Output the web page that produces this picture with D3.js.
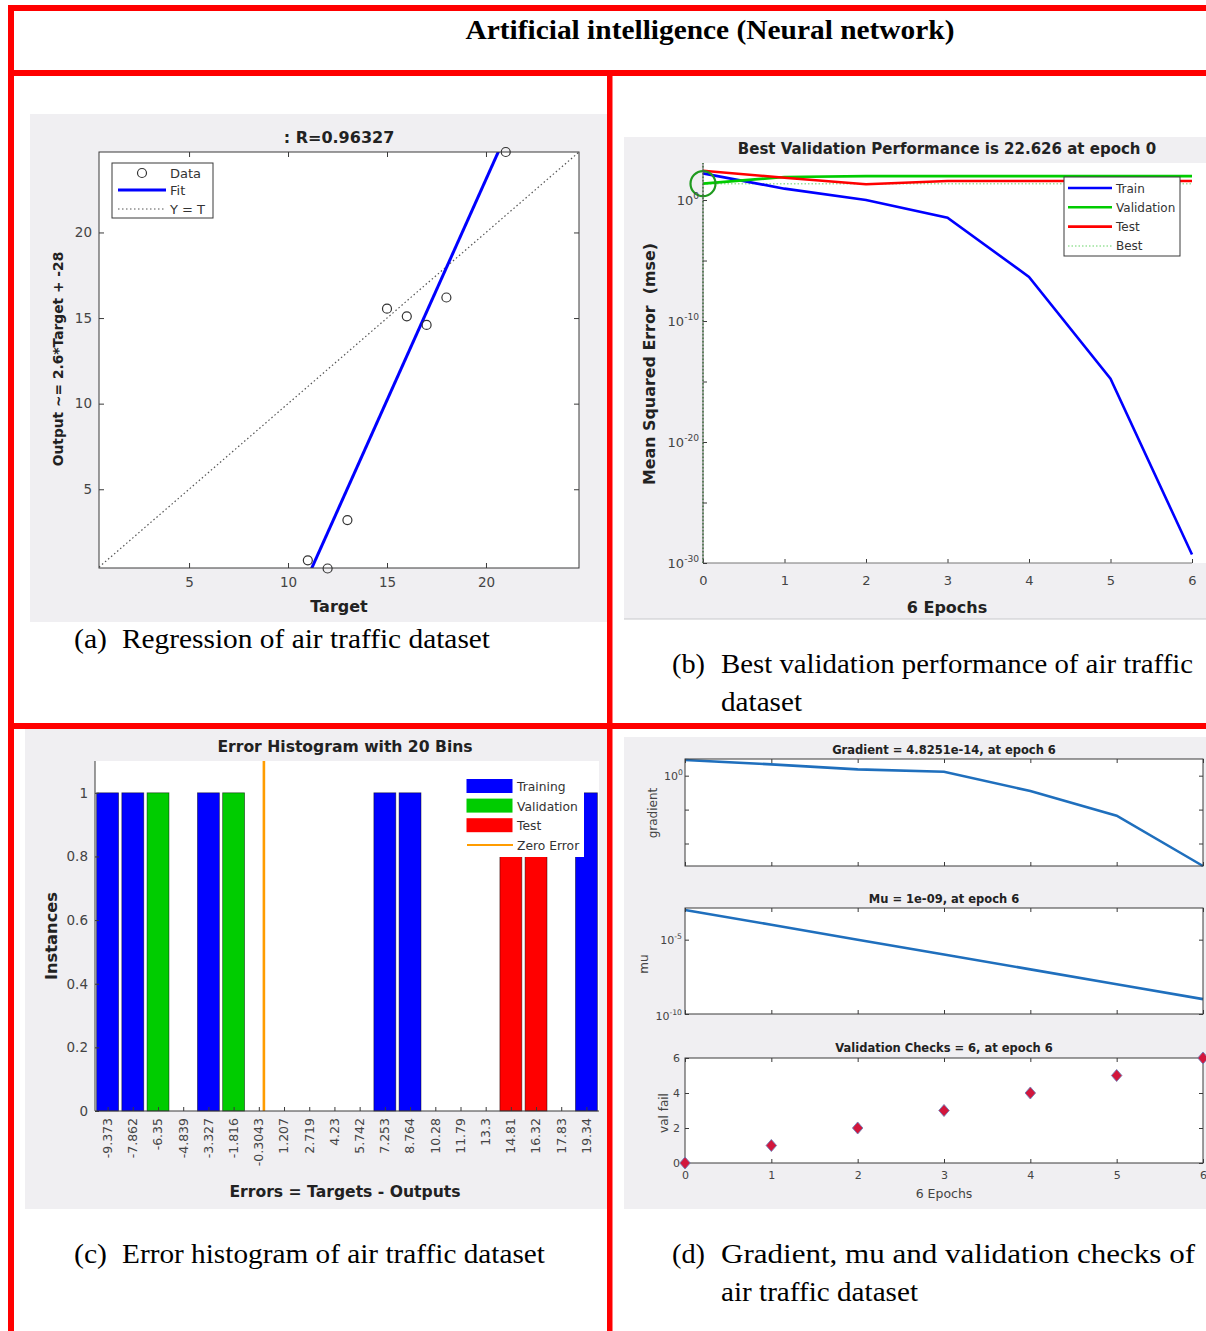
<!DOCTYPE html>
<html>
<head>
<meta charset="utf-8">
<script src="https://cdn.jsdelivr.net/npm/d3@7"></script>
<style>
  body { margin: 0; background: #fff; }
  svg text { white-space: pre; }
</style>
</head>
<body>
<svg id="fig" width="1206" height="1331"></svg>
<script>
// ---- data ----
const regTarget = [11, 12, 13, 15, 16, 17, 18, 21];
const regOutput = [0.85, 0.37, 3.2, 15.55, 15.1, 14.6, 16.2, 24.7];
const fitSlope = 2.58, fitIntercept = -28.5;
const regTicks = [5, 10, 15, 20];

const epochs = [0, 1, 2, 3, 4, 5, 6];
const perfTrain = [160, 8.7, 1.0, 0.035, 4.4e-7, 1.7e-15, 5e-30];
const perfVal = [22.626, 80, 95, 95, 95, 95, 95];
const perfTest = [265, 70, 20, 37, 37, 37, 37];
const bestPerf = 22.626, bestEpoch = 0;
const perfTickExp = [0, -5, -10, -15, -20, -25, -30];
const perfLabelExp = [0, -10, -20, -30];

const binCenters = [-9.373, -7.862, -6.35, -4.839, -3.327, -1.816, -0.3043, 1.207, 2.719, 4.23,
                    5.742, 7.253, 8.764, 10.28, 11.79, 13.3, 14.81, 16.32, 17.83, 19.34];
const histTrain = [1, 1, 0, 0, 1, 0, 0, 0, 0, 0, 0, 1, 1, 0, 0, 0, 0, 0, 0, 1];
const histVal   = [0, 0, 1, 0, 0, 1, 0, 0, 0, 0, 0, 0, 0, 0, 0, 0, 0, 0, 0, 0];
const histTest  = [0, 0, 0, 0, 0, 0, 0, 0, 0, 0, 0, 0, 0, 0, 0, 0, 1, 1, 0, 0];
const histTicks = [0, 0.2, 0.4, 0.6, 0.8, 1];

const gradVals = [204, 47, 8.5, 3.9, 5.5e-3, 1.26e-6, 4.8251e-14];
const muVals = [1e-3, 1e-4, 1e-5, 1e-6, 1e-7, 1e-8, 1e-9];
const valFail = [0, 1, 2, 3, 4, 5, 6];
const valTicks = [0, 2, 4, 6];

// ---- look ----
const FONT = '"DejaVu Sans", Verdana, sans-serif';
const SERIF = '"Liberation Serif", "Times New Roman", serif';
const AX = "#3a3a3a", TX = "#444", PANEL = "#f0eff2", RED = "#ff0000";

const svg = d3.select("#fig");

function styleAxis(g, fs) {
  g.attr("font-family", FONT).attr("font-size", fs);
  g.selectAll(".domain").remove();
  g.selectAll(".tick line").attr("stroke", AX);
  g.selectAll(".tick text").attr("fill", TX);
}

function powLabel(g, x, y, exp, fs) {
  const t = g.append("text").attr("x", x).attr("y", y + fs * 0.35)
    .attr("text-anchor", "end").attr("font-family", FONT)
    .attr("font-size", fs).attr("fill", TX);
  t.append("tspan").text("10");
  t.append("tspan").attr("font-size", fs * 0.7).attr("dy", -fs * 0.45).text(exp);
}

function label(g, x, y, txt, fs, opts = {}) {
  const t = g.append("text").attr("x", x).attr("y", y)
    .attr("text-anchor", opts.anchor || "middle")
    .attr("font-family", opts.family || FONT)
    .attr("font-size", fs)
    .attr("font-weight", opts.bold ? "bold" : "normal")
    .attr("fill", opts.fill || "#222")
    .text(txt);
  if (opts.rotate) t.attr("transform", `rotate(-90,${x},${y})`);
  return t;
}

// ---- panel backgrounds ----
const frame = svg.append("g");
frame.append("rect").attr("x", 30).attr("y", 114).attr("width", 577).attr("height", 508).attr("fill", PANEL);
frame.append("rect").attr("x", 624).attr("y", 137).attr("width", 582).attr("height", 482).attr("fill", PANEL);
frame.append("line").attr("x1", 624).attr("x2", 1206).attr("y1", 619).attr("y2", 619).attr("stroke", "#c8c8cc");
frame.append("rect").attr("x", 25).attr("y", 729).attr("width", 582).attr("height", 480).attr("fill", PANEL);
frame.append("rect").attr("x", 624).attr("y", 737).attr("width", 582).attr("height", 472).attr("fill", PANEL);

// ================= (a) regression =================
{
  const A = { l: 99, r: 579, t: 152, b: 568 };
  const x = d3.scaleLinear().domain([0.45, 24.7]).range([A.l, A.r]);
  const y = d3.scaleLinear().domain([0.4, 24.7]).range([A.b, A.t]);
  const g = svg.append("g");
  g.append("rect").attr("x", A.l).attr("y", A.t).attr("width", A.r - A.l).attr("height", A.b - A.t).attr("fill", "#fff");

  g.append("clipPath").attr("id", "clipA").append("rect")
    .attr("x", A.l).attr("y", A.t).attr("width", A.r - A.l).attr("height", A.b - A.t);

  const plot = g.append("g").attr("clip-path", "url(#clipA)");
  plot.append("line")
    .attr("x1", x(0.45)).attr("y1", y(0.45)).attr("x2", x(24.7)).attr("y2", y(24.7))
    .attr("stroke", "#555").attr("stroke-width", 1.2).attr("stroke-dasharray", "1.5,2.5");
  const fitT = [10, 22];
  plot.append("line")
    .attr("x1", x(fitT[0])).attr("y1", y(fitSlope * fitT[0] + fitIntercept))
    .attr("x2", x(fitT[1])).attr("y2", y(fitSlope * fitT[1] + fitIntercept))
    .attr("stroke", "#0000ff").attr("stroke-width", 3);
  g.selectAll("circle.pt").data(regTarget).join("circle").attr("class", "pt")
    .attr("cx", d => x(d)).attr("cy", (d, i) => y(regOutput[i])).attr("r", 4.5)
    .attr("fill", "none").attr("stroke", "#333").attr("stroke-width", 1.2);

  g.append("g").attr("transform", `translate(0,${A.b})`)
    .call(d3.axisBottom(x).tickValues(regTicks).tickSizeInner(-5).tickSizeOuter(0).tickPadding(9))
    .call(s => styleAxis(s, 13.5));
  g.append("g").attr("transform", `translate(0,${A.t})`)
    .call(d3.axisTop(x).tickValues(regTicks).tickSizeInner(-5).tickSizeOuter(0).tickFormat(""))
    .call(s => styleAxis(s, 13.5));
  g.append("g").attr("transform", `translate(${A.l},0)`)
    .call(d3.axisLeft(y).tickValues(regTicks).tickSizeInner(-5).tickSizeOuter(0).tickPadding(7))
    .call(s => styleAxis(s, 13.5));
  g.append("g").attr("transform", `translate(${A.r},0)`)
    .call(d3.axisRight(y).tickValues(regTicks).tickSizeInner(-5).tickSizeOuter(0).tickFormat(""))
    .call(s => styleAxis(s, 13.5));
  g.append("rect").attr("x", A.l).attr("y", A.t).attr("width", A.r - A.l).attr("height", A.b - A.t)
    .attr("fill", "none").attr("stroke", AX).attr("stroke-width", 1);

  // legend
  const lg = g.append("g");
  lg.append("rect").attr("x", 112).attr("y", 163).attr("width", 101).attr("height", 55)
    .attr("fill", "#fff").attr("stroke", AX);
  lg.append("circle").attr("cx", 142).attr("cy", 173).attr("r", 4.5).attr("fill", "none").attr("stroke", "#333").attr("stroke-width", 1.2);
  lg.append("line").attr("x1", 118).attr("x2", 166).attr("y1", 190).attr("y2", 190).attr("stroke", "#0000ff").attr("stroke-width", 3);
  lg.append("line").attr("x1", 118).attr("x2", 166).attr("y1", 209).attr("y2", 209).attr("stroke", "#555").attr("stroke-width", 1.2).attr("stroke-dasharray", "1.5,2.5");
  label(lg, 170, 178, "Data", 13, { anchor: "start", fill: "#333" });
  label(lg, 170, 195, "Fit", 13, { anchor: "start", fill: "#333" });
  label(lg, 170, 214, "Y = T", 13, { anchor: "start", fill: "#333" });

  label(g, 339, 143, ": R=0.96327", 16, { bold: true });
  label(g, 339, 612, "Target", 16, { bold: true });
  label(g, 63, 359, "Output ~= 2.6*Target + -28", 13.8, { bold: true, rotate: true });
}

// ================= (b) performance =================
{
  const B = { l: 703, r: 1192, t: 163, b: 563 };
  const x = d3.scaleLinear().domain([0, 6]).range([B.l, B.r]);
  const y = d3.scaleLog().domain([1e-30, Math.pow(10, 3.06)]).range([B.b, B.t]);
  const g = svg.append("g");
  g.append("rect").attr("x", B.l).attr("y", B.t).attr("width", 1206 - B.l).attr("height", B.b - B.t).attr("fill", "#fff");

  // best markers
  g.append("line").attr("x1", x(0)).attr("x2", x(6)).attr("y1", y(bestPerf)).attr("y2", y(bestPerf))
    .attr("stroke", "#9be29b").attr("stroke-width", 1.5).attr("stroke-dasharray", "1.5,2");
  g.append("line").attr("x1", x(bestEpoch)).attr("x2", x(bestEpoch)).attr("y1", B.b).attr("y2", B.t)
    .attr("stroke", "#3a9a3a").attr("stroke-width", 1.5).attr("stroke-dasharray", "1.5,2");

  const line = d3.line().x((d, i) => x(epochs[i])).y(d => y(d));
  [[perfTrain, "#0000ff"], [perfVal, "#00cc00"], [perfTest, "#ff0000"]].forEach(([s, c]) => {
    g.append("path").datum(s).attr("d", line).attr("fill", "none").attr("stroke", c).attr("stroke-width", 2.6);
  });
  g.append("circle").attr("cx", x(bestEpoch)).attr("cy", y(bestPerf)).attr("r", 12.5)
    .attr("fill", "none").attr("stroke", "#1f9a1f").attr("stroke-width", 2.2);

  g.append("g").attr("transform", `translate(0,${B.b})`)
    .call(d3.axisBottom(x).tickValues(epochs).tickSizeInner(-4).tickSizeOuter(0).tickPadding(13).tickFormat(d3.format("d")))
    .call(s => styleAxis(s, 13));
  g.append("line").attr("x1", B.l).attr("x2", B.r).attr("y1", B.b).attr("y2", B.b).attr("stroke", "#777").attr("stroke-width", 1.2);
  g.append("g").attr("transform", `translate(${B.l},0)`)
    .call(d3.axisLeft(y).tickValues(perfTickExp.map(e => Math.pow(10, e))).tickSizeInner(-4).tickSizeOuter(0).tickFormat(""))
    .call(s => styleAxis(s, 13));
  g.append("line").attr("x1", B.l).attr("x2", B.l).attr("y1", B.t).attr("y2", B.b).attr("stroke", "#555").attr("stroke-width", 1);
  perfLabelExp.forEach(e => powLabel(g, 699, y(Math.pow(10, e)), String(e), 13));

  // legend
  const lg = g.append("g");
  lg.append("rect").attr("x", 1064).attr("y", 177).attr("width", 116).attr("height", 79).attr("fill", "#fff").attr("stroke", AX);
  const items = [["Train", "#0000ff", null], ["Validation", "#00cc00", null], ["Test", "#ff0000", null], ["Best", "#9be29b", "1.5,2"]];
  items.forEach(([t, c, dash], i) => {
    const yy = 188 + i * 19.3;
    const l = lg.append("line").attr("x1", 1068).attr("x2", 1112).attr("y1", yy).attr("y2", yy)
      .attr("stroke", c).attr("stroke-width", dash ? 1.5 : 2.6);
    if (dash) l.attr("stroke-dasharray", dash);
    label(lg, 1116, yy + 4.5, t, 12, { anchor: "start", fill: "#333" });
  });

  label(g, 947, 154, "Best Validation Performance is 22.626 at epoch 0", 15, { bold: true });
  label(g, 947, 613, "6 Epochs", 16, { bold: true });
  label(g, 655, 364, "Mean Squared Error  (mse)", 15.9, { bold: true, rotate: true });
}

// ================= (c) error histogram =================
{
  const C = { l: 95, r: 599, t: 761, b: 1111 };
  const binW = (binCenters[binCenters.length - 1] - binCenters[0]) / (binCenters.length - 1);
  const x = d3.scaleLinear().domain([binCenters[0] - binW / 2, binCenters[binCenters.length - 1] + binW / 2]).range([C.l, C.r]);
  const y = d3.scaleLinear().domain([0, 1.1]).range([C.b, C.t]);
  const bw = (x(binW) - x(0)) * 0.87;
  const g = svg.append("g");
  g.append("rect").attr("x", C.l).attr("y", C.t).attr("width", C.r - C.l).attr("height", C.b - C.t).attr("fill", "#fff");

  const stacks = binCenters.map((c, i) => ({ c, tr: histTrain[i], va: histVal[i], te: histTest[i] }));
  const series = [["tr", "#0000ff"], ["va", "#00cc00"], ["te", "#ff0000"]];
  series.forEach(([k, col]) => {
    g.selectAll(`rect.b${k}`).data(stacks.filter(d => d[k] > 0)).join("rect").attr("class", `b${k}`)
      .attr("x", d => x(d.c) - bw / 2)
      .attr("y", d => y(d[k] + (k === "va" ? d.tr : k === "te" ? d.tr + d.va : 0)))
      .attr("width", bw)
      .attr("height", d => y(0) - y(d[k]))
      .attr("fill", col).attr("stroke", "rgba(0,0,0,0.55)").attr("stroke-width", 0.8);
  });

  g.append("line").attr("x1", x(0)).attr("x2", x(0)).attr("y1", C.b).attr("y2", C.t)
    .attr("stroke", "#ff9c00").attr("stroke-width", 2.6);

  g.append("g").attr("transform", `translate(0,${C.b})`)
    .call(d3.axisBottom(x).tickValues(binCenters).tickSizeInner(-4).tickSizeOuter(0).tickFormat(""))
    .call(s => styleAxis(s, 13));
  g.append("g").attr("transform", `translate(${C.l},0)`)
    .call(d3.axisLeft(y).tickValues(histTicks).tickSizeInner(-4).tickSizeOuter(0).tickPadding(7).tickFormat(d3.format("")))
    .call(s => styleAxis(s, 13.5));
  g.append("line").attr("x1", C.l).attr("x2", C.r).attr("y1", C.b).attr("y2", C.b).attr("stroke", AX);
  g.append("line").attr("x1", C.l).attr("x2", C.l).attr("y1", C.t).attr("y2", C.b).attr("stroke", AX);

  g.selectAll("text.xl").data(binCenters).join("text").attr("class", "xl")
    .attr("transform", d => `translate(${x(d)},1118) rotate(-90)`)
    .attr("dy", "0.35em").attr("text-anchor", "end")
    .attr("font-family", FONT).attr("font-size", 12.5).attr("fill", TX)
    .text(d => String(d));

  // legend
  const lg = g.append("g");
  lg.append("rect").attr("x", 461).attr("y", 773).attr("width", 123).attr("height", 84).attr("fill", "#fff");
  const cols = [["Training", "#0000ff"], ["Validation", "#00cc00"], ["Test", "#ff0000"]];
  cols.forEach(([t, c], i) => {
    const yy = 779 + i * 19.6;
    lg.append("rect").attr("x", 466.5).attr("y", yy).attr("width", 46).attr("height", 14).attr("fill", c);
    label(lg, 517, yy + 12, t, 12.3, { anchor: "start", fill: "#333" });
  });
  lg.append("line").attr("x1", 467).attr("x2", 513).attr("y1", 845).attr("y2", 845).attr("stroke", "#ff9c00").attr("stroke-width", 2.2);
  label(lg, 517, 850, "Zero Error", 12.3, { anchor: "start", fill: "#333" });

  label(g, 345, 752, "Error Histogram with 20 Bins", 15.6, { bold: true });
  label(g, 345, 1197, "Errors = Targets - Outputs", 15.6, { bold: true });
  label(g, 57, 936, "Instances", 16.3, { bold: true, rotate: true });
}

// ================= (d) training state =================
{
  const D = { l: 685, r: 1203 };
  const x = d3.scaleLinear().domain([0, 6]).range([D.l, D.r]);
  const g = svg.append("g");
  const blue = "#1f6fbd";

  function box(t, b, y, yTicks, showX) {
    g.append("rect").attr("x", D.l).attr("y", t).attr("width", D.r - D.l).attr("height", b - t).attr("fill", "#fff");
    return () => {
      g.append("g").attr("transform", `translate(0,${b})`)
        .call(d3.axisBottom(x).tickValues(epochs).tickSizeInner(-4).tickSizeOuter(0).tickPadding(8)
          .tickFormat(showX ? d3.format("d") : ""))
        .call(s => styleAxis(s, 11));
      g.append("g").attr("transform", `translate(0,${t})`)
        .call(d3.axisTop(x).tickValues(epochs).tickSizeInner(-4).tickSizeOuter(0).tickFormat(""))
        .call(s => styleAxis(s, 11));
      g.append("g").attr("transform", `translate(${D.l},0)`)
        .call(d3.axisLeft(y).tickValues(yTicks).tickSizeInner(-4).tickSizeOuter(0).tickFormat(""))
        .call(s => styleAxis(s, 11));
      g.append("g").attr("transform", `translate(${D.r},0)`)
        .call(d3.axisRight(y).tickValues(yTicks).tickSizeInner(-4).tickSizeOuter(0).tickFormat(""))
        .call(s => styleAxis(s, 11));
      g.append("rect").attr("x", D.l).attr("y", t).attr("width", D.r - D.l).attr("height", b - t)
        .attr("fill", "none").attr("stroke", AX).attr("stroke-width", 1);
    };
  }

  // gradient
  const yG = d3.scaleLog().domain([4.8251e-14, Math.pow(10, 2.46)]).range([866, 759]);
  const axG = box(759, 866, yG, [1, 1e-5, 1e-10], false);
  g.append("path").datum(gradVals).attr("fill", "none").attr("stroke", blue).attr("stroke-width", 2.6)
    .attr("d", d3.line().x((d, i) => x(epochs[i])).y(d => yG(d)));
  axG();
  powLabel(g, 683, yG(1), "0", 11);
  label(g, 944, 754, "Gradient = 4.8251e-14, at epoch 6", 11.5, { bold: true });
  label(g, 657, 813, "gradient", 12, { rotate: true, fill: "#444" });

  // mu
  const yM = d3.scaleLog().domain([1e-10, Math.pow(10, -2.87)]).range([1014, 908]);
  const axM = box(908, 1014, yM, [1e-5, 1e-10], false);
  g.append("path").datum(muVals).attr("fill", "none").attr("stroke", blue).attr("stroke-width", 2.6)
    .attr("d", d3.line().x((d, i) => x(epochs[i])).y(d => yM(d)));
  axM();
  powLabel(g, 682, yM(1e-5), "-5", 11);
  powLabel(g, 682, yM(1e-10) + 2, "-10", 11);
  label(g, 944, 903, "Mu = 1e-09, at epoch 6", 11.5, { bold: true });
  label(g, 648, 964, "mu", 12, { rotate: true, fill: "#444" });

  // validation checks
  const yV = d3.scaleLinear().domain([0, 6]).range([1163, 1058]);
  const axV = box(1058, 1163, yV, valTicks, true);
  axV();
  g.append("g").attr("transform", `translate(${D.l},0)`)
    .call(d3.axisLeft(yV).tickValues(valTicks).tickSize(0).tickPadding(5).tickFormat(d3.format("d")))
    .call(s => styleAxis(s, 11));
  g.selectAll("path.dm").data(valFail).join("path").attr("class", "dm")
    .attr("transform", (d, i) => `translate(${x(epochs[i])},${yV(d)}) scale(1,1.15)`)
    .attr("d", d3.symbol().type(d3.symbolDiamond2).size(70))
    .attr("fill", "#d2163c").attr("stroke", "#6a7fb8").attr("stroke-width", 0.8);
  label(g, 944, 1052, "Validation Checks = 6, at epoch 6", 11.5, { bold: true });
  label(g, 944, 1198, "6 Epochs", 12.5, { fill: "#444" });
  label(g, 668, 1113, "val fail", 12, { rotate: true, fill: "#444" });
}

// ---- red table lines ----
svg.append("rect").attr("x", 8).attr("y", 5).attr("width", 1198).attr("height", 6).attr("fill", RED);
svg.append("rect").attr("x", 8).attr("y", 5).attr("width", 6).attr("height", 1326).attr("fill", RED);
svg.append("rect").attr("x", 8).attr("y", 70).attr("width", 1198).attr("height", 6).attr("fill", RED);
svg.append("rect").attr("x", 607).attr("y", 70).attr("width", 5.5).attr("height", 1261).attr("fill", RED);
svg.append("rect").attr("x", 8).attr("y", 723).attr("width", 1198).attr("height", 6).attr("fill", RED);

// ---- header and captions ----
label(svg, 710, 39, "Artificial intelligence (Neural network)", 27, { bold: true, family: SERIF, fill: "#000" })
  .attr("textLength", 489).attr("lengthAdjust", "spacingAndGlyphs");

const caps = [
  [74, 122, 648, "(a)", "Regression of air traffic dataset", 368],
  [672, 721, 673, "(b)", "Best validation performance of air traffic", 472],
  [721, null, 711, null, "dataset", 81],
  [74, 122, 1263, "(c)", "Error histogram of air traffic dataset", 423],
  [672, 721, 1263, "(d)", "Gradient, mu and validation checks of", 474],
  [721, null, 1301, null, "air traffic dataset", 197]
];
caps.forEach(([x0, x1, yb, tag, txt, w]) => {
  if (tag) label(svg, x0, yb, tag, 27, { anchor: "start", family: SERIF, fill: "#000" })
    .attr("textLength", 33).attr("lengthAdjust", "spacingAndGlyphs");
  label(svg, tag ? x1 : x0, yb, txt, 27, { anchor: "start", family: SERIF, fill: "#000" })
    .attr("textLength", w).attr("lengthAdjust", "spacingAndGlyphs");
});
</script>
</body>
</html>
